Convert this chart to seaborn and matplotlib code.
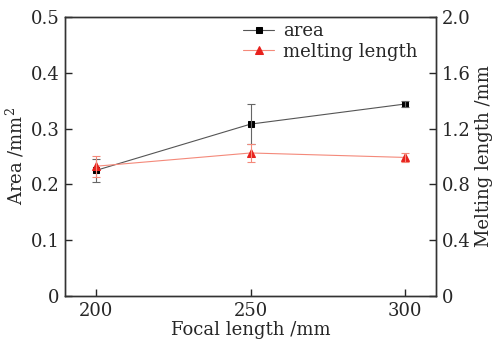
import numpy as np
import pandas as pd
import matplotlib
matplotlib.use("Agg")
import matplotlib.pyplot as plt
import seaborn as sns

focal = [200, 250, 300]
area = [0.225, 0.308, 0.344]
area_err = [0.021, 0.036, 0.006]
melt = [0.930, 1.025, 0.993]
melt_err = [0.075, 0.065, 0.035]

sns.set_theme(style="ticks")
plt.rcParams['font.family'] = ['DejaVu Serif']
plt.rcParams['mathtext.fontset'] = 'dejavuserif'

fig, ax = plt.subplots(figsize=(4.93, 3.45), dpi=100)
ax2 = ax.twinx()

# area on the left axis
sns.lineplot(x=focal, y=area, ax=ax, color='#555555', lw=0.8, marker='s',
             markersize=5, markerfacecolor='black', markeredgecolor='black',
             label='area', legend=False)
ax.errorbar(focal, area, yerr=area_err, fmt='none', ecolor='#666666',
            elinewidth=0.8, capsize=3, capthick=0.8)

# melting length on the right axis
sns.lineplot(x=focal, y=melt, ax=ax2, color='#f4897a', lw=0.8, marker='^',
             markersize=6, markerfacecolor='#e8201c', markeredgecolor='#e8201c',
             label='melting length', legend=False)
ax2.errorbar(focal, melt, yerr=melt_err, fmt='none', ecolor='#f4897a',
             elinewidth=0.8, capsize=3, capthick=0.8)

ax.set_xlim(190, 310)
ax.set_ylim(0, 0.5)
ax2.set_ylim(0, 2.0)
ax.set_xticks([200, 250, 300])
ax.set_yticks([0, 0.1, 0.2, 0.3, 0.4, 0.5])
ax.set_yticklabels(['0', '0.1', '0.2', '0.3', '0.4', '0.5'])
ax2.set_yticks([0, 0.4, 0.8, 1.2, 1.6, 2.0])
ax2.set_yticklabels(['0', '0.4', '0.8', '1.2', '1.6', '2.0'])

for a in (ax, ax2):
    a.tick_params(direction='in', length=5, width=1, labelsize=13, pad=4)
    for s in a.spines.values():
        s.set_linewidth(1)
        s.set_color('#333333')

ax.set_xlabel('Focal length /mm', fontsize=13, labelpad=1)
ax.set_ylabel('Area /mm$^2$', fontsize=13, labelpad=3)
ax2.set_ylabel('Melting length /mm', fontsize=13, labelpad=3)

h1, l1 = ax.get_legend_handles_labels()
h2, l2 = ax2.get_legend_handles_labels()
ax.legend(h1 + h2, l1 + l2, loc='upper left', bbox_to_anchor=(0.435, 1.04),
          frameon=False, fontsize=13, handlelength=1.75, handletextpad=0.5,
          labelspacing=0.15)

fig.subplots_adjust(left=0.132, right=0.885, top=0.951, bottom=0.142)
fig.savefig('out.png', dpi=100)
